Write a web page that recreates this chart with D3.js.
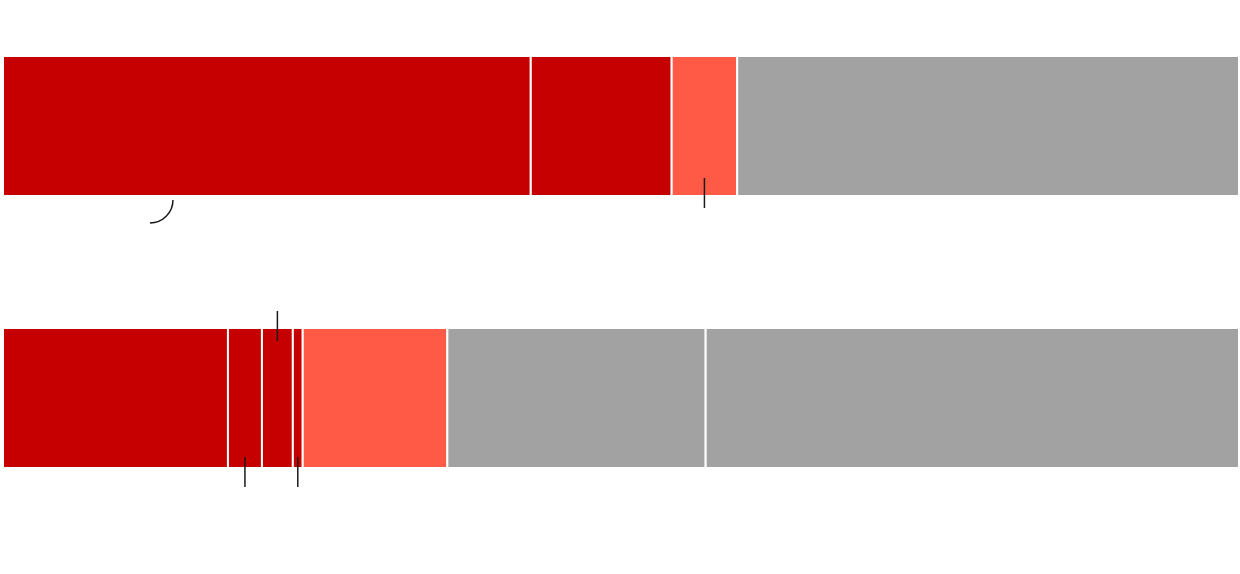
<!DOCTYPE html>
<head>
  <meta charset="utf-8">
  <script src="https://d3js.org/d3.v7.min.js"></script>
  <style>
    body { margin:0; background:#fff; }
    .seg { stroke:#fff; stroke-width:2px; }
    .pointer { fill:none; stroke:#1a1a1a; stroke-width:1.5px; }
  </style>
</head>
<body>
<script>

  // rows of the chart
  var rows = ["top", "bottom"];

  // share of each segment (percent of the row)
  var topValues    = [42.7, 11.4, 5.3, 40.6];
  var bottomValues = [18.2, 2.75, 2.5, 0.8, 11.7, 20.9, 43.15];

  // what kind each segment is
  var topKinds    = ["solid", "solid", "lean", "other"];
  var bottomKinds = ["solid", "solid", "solid", "solid", "lean", "other", "other"];

  // pointer lines: which row, where (segment index or percent), which side
  var pointers = [
    {row: "top",    at: 13.75, side: "below", hook: true},
    {row: "top",    seg: 2,    side: "below"},
    {row: "bottom", seg: 2,    side: "above"},
    {row: "bottom", seg: 1,    side: "below"},
    {row: "bottom", seg: 3,    side: "below"}
  ];

  var width = 1240, height = 574;

  var svg = d3.select("body").append("svg")
    .attr("width", width)
    .attr("height", height);

  var x = d3.scaleLinear()
    .domain([0, 100])
    .range([3, 1239]);

  var y = d3.scaleBand()
    .domain(rows)
    .range([56, 468])
    .paddingInner(0.4853)
    .paddingOuter(0);

  var color = d3.scaleOrdinal()
    .domain(["solid", "lean", "other"])
    .range(["#c60000", "#ff5a45", "#a2a2a2"]);

  // stack each row into [start, end] pieces
  function stack(values, kinds) {
    var acc = 0;
    return values.map(function(v, i) {
      var d = {x0: acc, x1: acc + v, kind: kinds[i]};
      acc += v;
      return d;
    });
  }

  var segs = {
    top: stack(topValues, topKinds),
    bottom: stack(bottomValues, bottomKinds)
  };

  rows.forEach(function(r) {
    svg.append("g")
      .selectAll("rect")
      .data(segs[r])
      .enter()
      .append("rect")
      .attr("class", "seg")
      .attr("x", function(d) { return x(d.x0); })
      .attr("y", y(r))
      .attr("width", function(d) { return x(d.x1) - x(d.x0); })
      .attr("height", y.bandwidth())
      .attr("fill", function(d) { return color(d.kind); });
  });

  // pointer lines
  pointers.forEach(function(p) {
    var px = p.seg != null
      ? x((segs[p.row][p.seg].x0 + segs[p.row][p.seg].x1) / 2)
      : x(p.at);
    var top = y(p.row), bot = y(p.row) + y.bandwidth();

    if (p.hook) {
      var r = 23;
      svg.append("path")
        .attr("class", "pointer")
        .attr("d", "M" + px + "," + (bot + 4) +
                   " A" + r + "," + r + " 0 0 1 " + (px - r) + "," + (bot + 4 + r));
    } else if (p.side === "below") {
      // top row pointer sits a bit higher than the bottom row ones
      var up = p.row === "top" ? 18 : 11;
      svg.append("line")
        .attr("class", "pointer")
        .attr("x1", px).attr("x2", px)
        .attr("y1", bot - up).attr("y2", bot - up + 30);
    } else {
      svg.append("line")
        .attr("class", "pointer")
        .attr("x1", px).attr("x2", px)
        .attr("y1", top - 17).attr("y2", top + 13);
    }
  });

</script>
</body>
